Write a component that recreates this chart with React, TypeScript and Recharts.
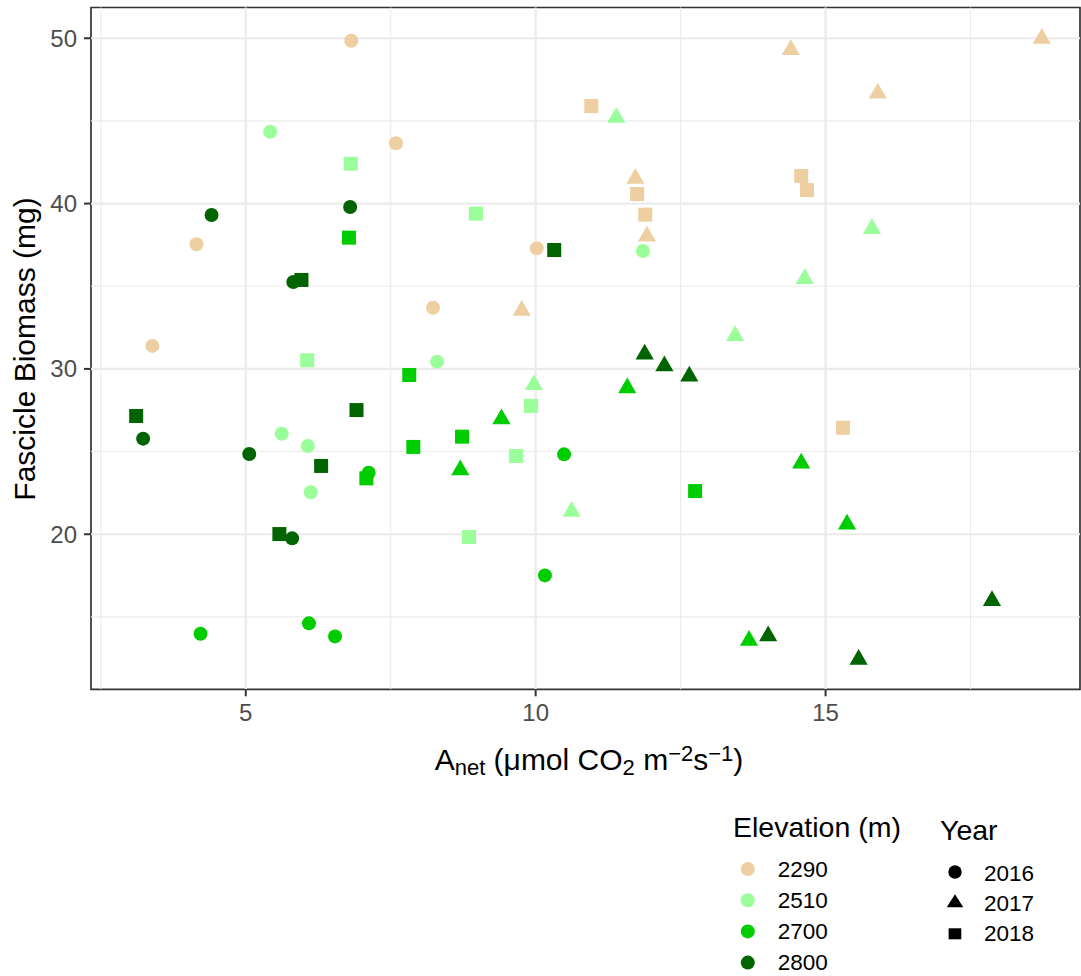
import React from 'react';
import { ScatterChart, Scatter, XAxis, YAxis, ReferenceLine, ReferenceArea } from 'recharts';

// ---- data (x = Anet, y = fascicle biomass) ----
const e2290_2016 = [
  { x: 6.82, y: 49.85 }, { x: 7.59, y: 43.65 }, { x: 4.15, y: 37.54 },
  { x: 3.39, y: 31.39 }, { x: 10.02, y: 37.3 }, { x: 8.23, y: 33.7 },
];
const e2290_2017 = [
  { x: 9.76, y: 33.54 }, { x: 11.72, y: 41.51 }, { x: 11.92, y: 38.03 },
  { x: 14.4, y: 49.31 }, { x: 18.73, y: 49.99 }, { x: 15.9, y: 46.67 },
];
const e2290_2018 = [
  { x: 10.96, y: 45.9 }, { x: 11.75, y: 40.58 }, { x: 11.89, y: 39.33 },
  { x: 14.58, y: 41.67 }, { x: 14.68, y: 40.82 }, { x: 15.3, y: 26.44 },
];
const e2510_2016 = [
  { x: 5.42, y: 44.35 }, { x: 11.85, y: 37.13 }, { x: 8.3, y: 30.44 },
  { x: 5.62, y: 26.08 }, { x: 6.07, y: 25.34 }, { x: 6.12, y: 22.54 },
];
const e2510_2017 = [
  { x: 11.39, y: 45.2 }, { x: 15.8, y: 38.48 }, { x: 14.64, y: 35.46 },
  { x: 13.44, y: 32.01 }, { x: 9.97, y: 29.04 }, { x: 10.62, y: 21.38 },
];
const e2510_2018 = [
  { x: 6.81, y: 42.41 }, { x: 8.97, y: 39.39 }, { x: 6.06, y: 30.52 },
  { x: 9.92, y: 27.76 }, { x: 9.66, y: 24.73 }, { x: 8.85, y: 19.83 },
];
const e2700_2016 = [
  { x: 7.12, y: 23.72 }, { x: 4.22, y: 13.98 }, { x: 6.09, y: 14.61 },
  { x: 6.54, y: 13.82 }, { x: 10.49, y: 24.83 }, { x: 10.16, y: 17.51 },
];
const e2700_2017 = [
  { x: 9.41, y: 26.97 }, { x: 8.7, y: 23.89 }, { x: 11.58, y: 28.85 },
  { x: 14.58, y: 24.29 }, { x: 15.37, y: 20.61 }, { x: 13.68, y: 13.57 },
];
const e2700_2018 = [
  { x: 6.78, y: 37.94 }, { x: 7.08, y: 23.38 }, { x: 7.82, y: 29.63 },
  { x: 8.73, y: 25.9 }, { x: 7.89, y: 25.28 }, { x: 12.75, y: 22.61 },
];
const e2800_2016 = [
  { x: 4.41, y: 39.31 }, { x: 6.8, y: 39.79 }, { x: 5.82, y: 35.26 },
  { x: 3.23, y: 25.78 }, { x: 5.06, y: 24.85 }, { x: 5.8, y: 19.75 },
];
const e2800_2017 = [
  { x: 11.88, y: 30.88 }, { x: 12.22, y: 30.18 }, { x: 12.65, y: 29.55 },
  { x: 14.01, y: 13.84 }, { x: 15.57, y: 12.42 }, { x: 17.87, y: 15.98 },
];
const e2800_2018 = [
  { x: 5.96, y: 35.38 }, { x: 3.11, y: 27.15 }, { x: 6.91, y: 27.51 },
  { x: 6.3, y: 24.13 }, { x: 5.58, y: 20.01 }, { x: 10.32, y: 37.19 },
];

const elevations = ['2290', '2510', '2700', '2800'];
const years = ['2016', '2017', '2018'];
const elevColors = ['#EECFA1', '#9AFF9A', '#00CD00', '#006400'];

const xTicks = [5, 10, 15];
const yTicks = [20, 30, 40, 50];
const xMinor = [2.5, 7.5, 12.5, 17.5];
const yMinor = [15, 25, 35, 45];
const X_DOMAIN: [number, number] = [2.331, 19.388];
const Y_DOMAIN: [number, number] = [10.62, 51.86];

const seriesData = [
  [e2290_2016, e2290_2017, e2290_2018],
  [e2510_2016, e2510_2017, e2510_2018],
  [e2700_2016, e2700_2017, e2700_2018],
  [e2800_2016, e2800_2017, e2800_2018],
];

const FONT = '"Liberation Sans", Arial, Helvetica, sans-serif';

const CircleShape = (p: any) => <circle cx={p.cx} cy={p.cy} r={7} fill={p.fill} />;
const TriShape = (p: any) => {
  const r = 10.5;
  const xc = r * 0.866;
  const pts = `${p.cx},${p.cy - r} ${p.cx + xc},${p.cy + r / 2} ${p.cx - xc},${p.cy + r / 2}`;
  return <polygon points={pts} fill={p.fill} />;
};
const SquareShape = (p: any) => <rect x={p.cx - 7} y={p.cy - 7} width={14} height={14} fill={p.fill} />;
const shapes = [CircleShape, TriShape, SquareShape];

export default function App() {
  return (
    <div style={{ position: 'absolute', left: 0, top: 0, width: 1081, height: 976, background: '#fff', fontFamily: FONT }}>
      <ScatterChart width={1081} height={976} margin={{ top: 7.5, right: 1, bottom: 0, left: 0 }}>
        <XAxis
          type="number"
          dataKey="x"
          domain={X_DOMAIN}
          allowDataOverflow
          ticks={xTicks}
          axisLine={false}
          tickLine={{ stroke: '#333333', strokeWidth: 2 }}
          tickSize={7}
          tickMargin={8}
          height={286.7}
          tick={{ fill: '#4D4D4D', fontSize: 24, fontFamily: FONT }}
        />
        <YAxis
          type="number"
          dataKey="y"
          domain={Y_DOMAIN}
          allowDataOverflow
          ticks={yTicks}
          axisLine={false}
          tickLine={{ stroke: '#333333', strokeWidth: 2 }}
          tickSize={7}
          tickMargin={7}
          width={91}
          tick={{ fill: '#4D4D4D', fontSize: 24, fontFamily: FONT }}
        />
        {xMinor.map((v) => (
          <ReferenceLine key={'xm' + v} x={v} stroke="#EBEBEB" strokeWidth={1.1} />
        ))}
        {yMinor.map((v) => (
          <ReferenceLine key={'ym' + v} y={v} stroke="#EBEBEB" strokeWidth={1.1} />
        ))}
        {xTicks.map((v) => (
          <ReferenceLine key={'xM' + v} x={v} stroke="#EBEBEB" strokeWidth={2.2} />
        ))}
        {yTicks.map((v) => (
          <ReferenceLine key={'yM' + v} y={v} stroke="#EBEBEB" strokeWidth={2.2} />
        ))}
        {elevations.map((e, ei) =>
          years.map((yr, yi) => (
            <Scatter
              key={e + yr}
              name={e + '-' + yr}
              data={seriesData[ei][yi]}
              fill={elevColors[ei]}
              shape={shapes[yi]}
              isAnimationActive={false}
            />
          ))
        )}
        <ReferenceArea
          x1={X_DOMAIN[0]}
          x2={X_DOMAIN[1]}
          y1={Y_DOMAIN[0]}
          y2={Y_DOMAIN[1]}
          fill="none"
          fillOpacity={0}
          stroke="#333333"
          strokeWidth={1.7}
          strokeOpacity={1}
          ifOverflow="visible"
        />
      </ScatterChart>
      <svg
        width={1081}
        height={976}
        style={{ position: 'absolute', left: 0, top: 0, pointerEvents: 'none' }}
        fontFamily={FONT}
      >
        <text x={589} y={770} textAnchor="middle" fontSize={30} fill="#000">
          A<tspan fontSize={22} dy={5}>net</tspan>
          <tspan dy={-5}> (μmol CO</tspan>
          <tspan fontSize={22} dy={5}>2</tspan>
          <tspan dy={-5}> m</tspan>
          <tspan fontSize={22} dy={-9}>−2</tspan>
          <tspan dy={9}>s</tspan>
          <tspan fontSize={22} dy={-9}>−1</tspan>
          <tspan dy={9}>)</tspan>
        </text>
        <text x={35} y={349} transform="rotate(-90 35 349)" textAnchor="middle" fontSize={30} fill="#000">
          Fascicle Biomass (mg)
        </text>

        <text x={733} y={837} fontSize={28.5} fill="#000">Elevation (m)</text>
        {elevations.map((e, i) => (
          <g key={'le' + e}>
            <circle cx={747.8} cy={869 + i * 31.2} r={7} fill={elevColors[i]} />
            <text x={777.7} y={877.3 + i * 31} fontSize={22.5} fill="#000">{e}</text>
          </g>
        ))}

        <text x={940} y={840} fontSize={28.5} fill="#000">Year</text>
        <circle cx={955} cy={872} r={6.7} fill="#000" />
        <polygon points={`${955},${894.3} ${963.3},${907.3} ${946.7},${907.3}`} fill="#000" />
        <rect x={948.6} y={928.3} width={12.7} height={11} fill="#000" />
        {years.map((yr, i) => (
          <text key={'ly' + yr} x={984} y={880.7 + i * 30.1} fontSize={22.5} fill="#000">{yr}</text>
        ))}
      </svg>
    </div>
  );
}
